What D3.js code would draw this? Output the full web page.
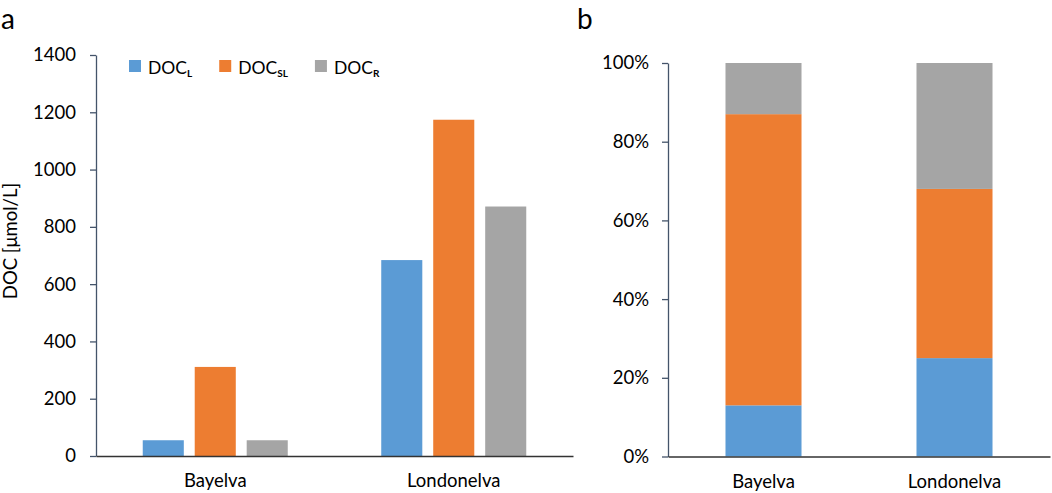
<!DOCTYPE html>
<html lang="en">
<head>
    <meta charset="UTF-8">
    <title>DOC fractions</title>
    <script src="https://d3js.org/d3.v7.min.js"></script>
    <style>
        body{
            margin: 0;
            background-color: white;
        }
        svg text{
            font-family: Lato, "Open Sans", sans-serif;
            fill: black;
        }
        .tick text{
            font-size: 18.5px;
        }
    </style>
</head>
<body>

<svg id="canvas" width="1052" height="493"></svg>

<script>
    // values
    let sites = ["Bayelva", "Londonelva"];
    let fractions = ["L", "SL", "R"];
    let colors = ["#5B9BD5", "#ED7D31", "#A5A5A5"];

    // panel a: DOC concentration, umol/L
    let docL = [55, 684];
    let docSL = [311, 1174];
    let docR = [55, 871];
    let ticksA = [0, 200, 400, 600, 800, 1000, 1200, 1400];

    // panel b: share of total DOC, %
    let shareL = [13, 25];
    let shareSL = [74, 43];
    let shareR = [13, 32];
    let ticksB = [0, 20, 40, 60, 80, 100];

    let svg = d3.select('svg');
    let axisColor = "#44546A";

    // ---------- panel a ----------
    let xa = d3.scaleBand().domain(sites).range([96, 573])
        .paddingInner(0.392).paddingOuter(0.196);
    let xaInner = d3.scaleBand().domain(fractions).range([0, xa.bandwidth()])
        .paddingInner(0.21);
    let ya = d3.scaleLinear().domain([0, 1400]).range([456, 55]);

    let tableA = sites.map(function (s, i){
        return {site: s, values: [docL[i], docSL[i], docR[i]]};
    });

    let gA = svg.append('g');
    gA.selectAll('g.site')
        .data(tableA)
        .enter()
        .append('g')
        .attr("class", "site")
        .attr("transform", function (d){ return "translate(" + xa(d.site) + ",0)"; })
        .selectAll('rect')
        .data(function (d){ return d.values; })
        .enter()
        .append('rect')
        .attr("x", function (d, j){ return xaInner(fractions[j]); })
        .attr("width", xaInner.bandwidth())
        .attr("y", function (d){ return ya(d); })
        .attr("height", function (d){ return ya(0) - ya(d); })
        .attr("fill", function (d, j){ return colors[j]; });

    let yAxisA = gA.append('g')
        .attr("transform", "translate(96,0)")
        .call(d3.axisLeft(ya).tickValues(ticksA).tickSize(6).tickSizeOuter(0).tickPadding(14)
            .tickFormat(d3.format("d")));
    yAxisA.selectAll('path, line').attr("stroke", axisColor).attr("stroke-width", 1.3);

    let xAxisA = gA.append('g')
        .attr("transform", "translate(0,456)")
        .call(d3.axisBottom(xa).tickSize(0).tickPadding(18));
    xAxisA.select('path').attr("stroke", "#333").attr("stroke-width", 1.3);

    gA.append('text')
        .attr("transform", "translate(17,241) rotate(-90)")
        .attr("text-anchor", "middle")
        .style("font-size", "18.5px")
        .text("DOC [μmol/L]");

    // legend
    let legend = gA.append('g').attr("transform", "translate(129,60)");
    let lx = 0;
    fractions.forEach(function (f, j){
        let item = legend.append('g').attr("transform", "translate(" + lx + ",0)");
        item.append('rect')
            .attr("width", 12).attr("height", 12)
            .attr("fill", colors[j]);
        let t = item.append('text')
            .attr("x", 19).attr("y", 14)
            .style("font-size", "17.5px");
        t.append('tspan').text("DOC");
        t.append('tspan')
            .attr("dy", 3)
            .style("font-size", "10px")
            .style("font-weight", "bold")
            .text(f);
        lx += 19 + t.node().getComputedTextLength() + 27;
    });

    // ---------- panel b ----------
    let xb = d3.scaleBand().domain(sites).range([668, 1050])
        .paddingInner(0.602).paddingOuter(0.301);
    let yb = d3.scaleLinear().domain([0, 100]).range([456.5, 63]);

    let tableB = sites.map(function (s, i){
        return {site: s, L: shareL[i], SL: shareSL[i], R: shareR[i]};
    });
    let stacked = d3.stack().keys(fractions)(tableB);

    let gB = svg.append('g');
    gB.selectAll('g.layer')
        .data(stacked)
        .enter()
        .append('g')
        .attr("class", "layer")
        .attr("fill", function (d, j){ return colors[j]; })
        .selectAll('rect')
        .data(function (d){ return d; })
        .enter()
        .append('rect')
        .attr("x", function (d){ return xb(d.data.site); })
        .attr("width", xb.bandwidth())
        .attr("y", function (d){ return yb(d[1]); })
        .attr("height", function (d){ return yb(d[0]) - yb(d[1]); });

    let yAxisB = gB.append('g')
        .attr("transform", "translate(668,0)")
        .call(d3.axisLeft(yb).tickValues(ticksB).tickSize(6).tickSizeOuter(0).tickPadding(13)
            .tickFormat(function (d){ return d + "%"; }));
    yAxisB.selectAll('path, line').attr("stroke", axisColor).attr("stroke-width", 1.3);

    let xAxisB = gB.append('g')
        .attr("transform", "translate(0,456.5)")
        .call(d3.axisBottom(xb).tickSize(0).tickPadding(18));
    xAxisB.select('path').attr("stroke", "#333").attr("stroke-width", 1.3);

    // panel letters
    svg.append('text').attr("x", 1).attr("y", 29)
        .style("font-size", "28px").text("a");
    svg.append('text').attr("x", 577).attr("y", 29)
        .style("font-size", "28px").text("b");
</script>

</body>
</html>
